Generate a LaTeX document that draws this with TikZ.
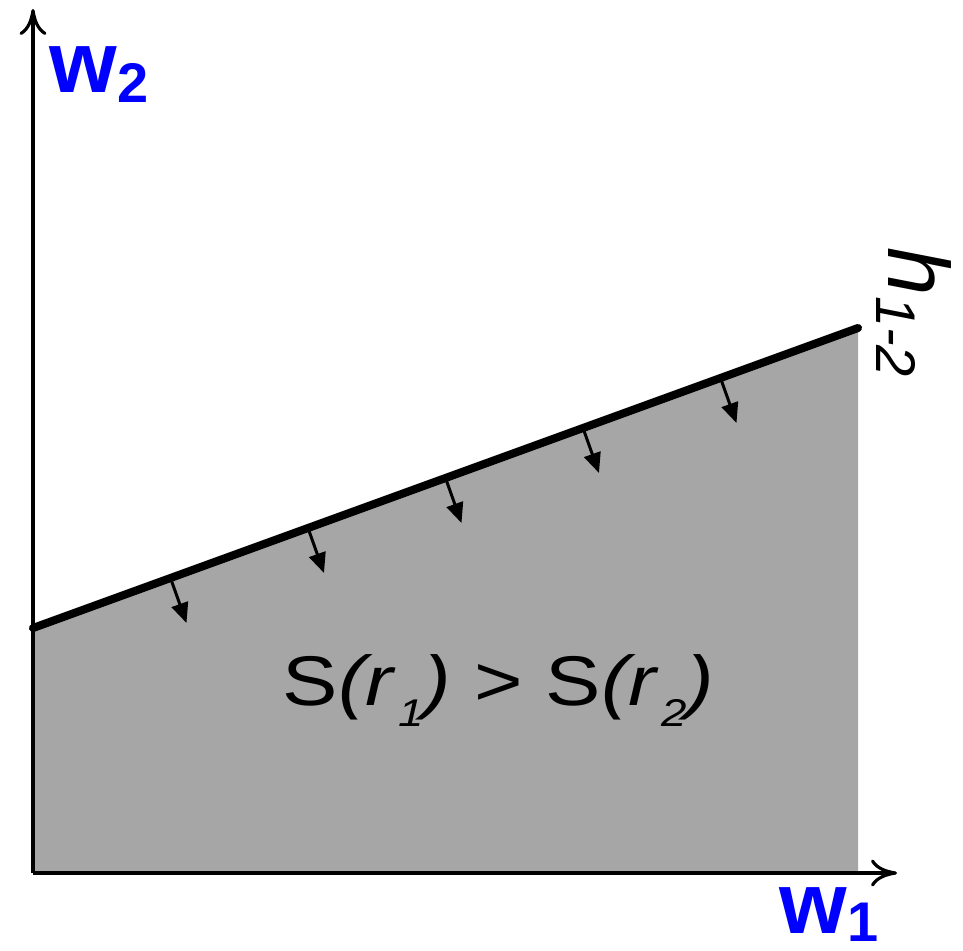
\documentclass[tikz,border=0pt]{standalone}
\usepackage{fontspec}
\setmainfont{Liberation Sans}
\usepackage{xcolor}
\usetikzlibrary{arrows.meta,calc}
\definecolor{regiongray}{HTML}{A6A6A6}
\definecolor{labelblue}{HTML}{0000FF}

\begin{document}
\begin{tikzpicture}[
  x=0.01cm, y=0.01cm,
  >=Stealth,
  axis/.style={-{Computer Modern Rightarrow[length=0.26cm, width=0.27cm]}, line width=0.9pt},
  bound/.style={line width=2.3pt, line cap=round},
  push/.style={-{Triangle[length=0.2cm, width=0.17cm]}, line width=0.85pt},
  axislabel/.style={inner sep=0pt, anchor=base west, text=labelblue, font=\fontsize{24.7}{25}\selectfont\bfseries},
  textlabel/.style={inner sep=0pt, anchor=base west, font=\fontsize{20}{24}\selectfont}
]
  \useasboundingbox (0,0) rectangle (963,950);
  \coordinate (O) at (33,77);
  \coordinate (xend) at (897,77);
  \coordinate (yend) at (33,941);
  \coordinate (hstart) at (33,322);
  \coordinate (hend) at (858,622);
  % feasible region
  \fill[regiongray] (O) -- (hstart) -- (hend) -- (hend |- O) -- cycle;
  \draw[axis] (O) -- (xend);
  \draw[axis] (O) -- (yend);
  \foreach \t in {1,...,5}
    \draw[push] ($(hstart)!\t/6!(hend)$) -- ++(16,-45);
  \draw[bound] (hstart) -- (hend);
  % labels
  \node[axislabel] (w2) at (49,858) {w\raisebox{-0.1cm}{\fontsize{15.9}{16}\selectfont 2}};
  \node[axislabel] (w1) at (779,17) {w\raisebox{-0.08cm}{\fontsize{15.9}{16}\selectfont 1}};
  \node[textlabel, rotate=-90, font=\fontsize{24.7}{25}\selectfont\itshape] (h12) at (888,703) {h\raisebox{-0.11cm}{\fontsize{15.9}{16}\selectfont 1-2}};
  \node[textlabel] (cond) at (282,245) {\scalebox{1.18}[1]{S{\itshape(r\hspace{0.04cm}\raisebox{-0.21cm}{\fontsize{11}{12}\selectfont 1})} > S{\itshape(r\hspace{0.04cm}\raisebox{-0.21cm}{\fontsize{11}{12}\selectfont 2})}}};
\end{tikzpicture}
\end{document}
